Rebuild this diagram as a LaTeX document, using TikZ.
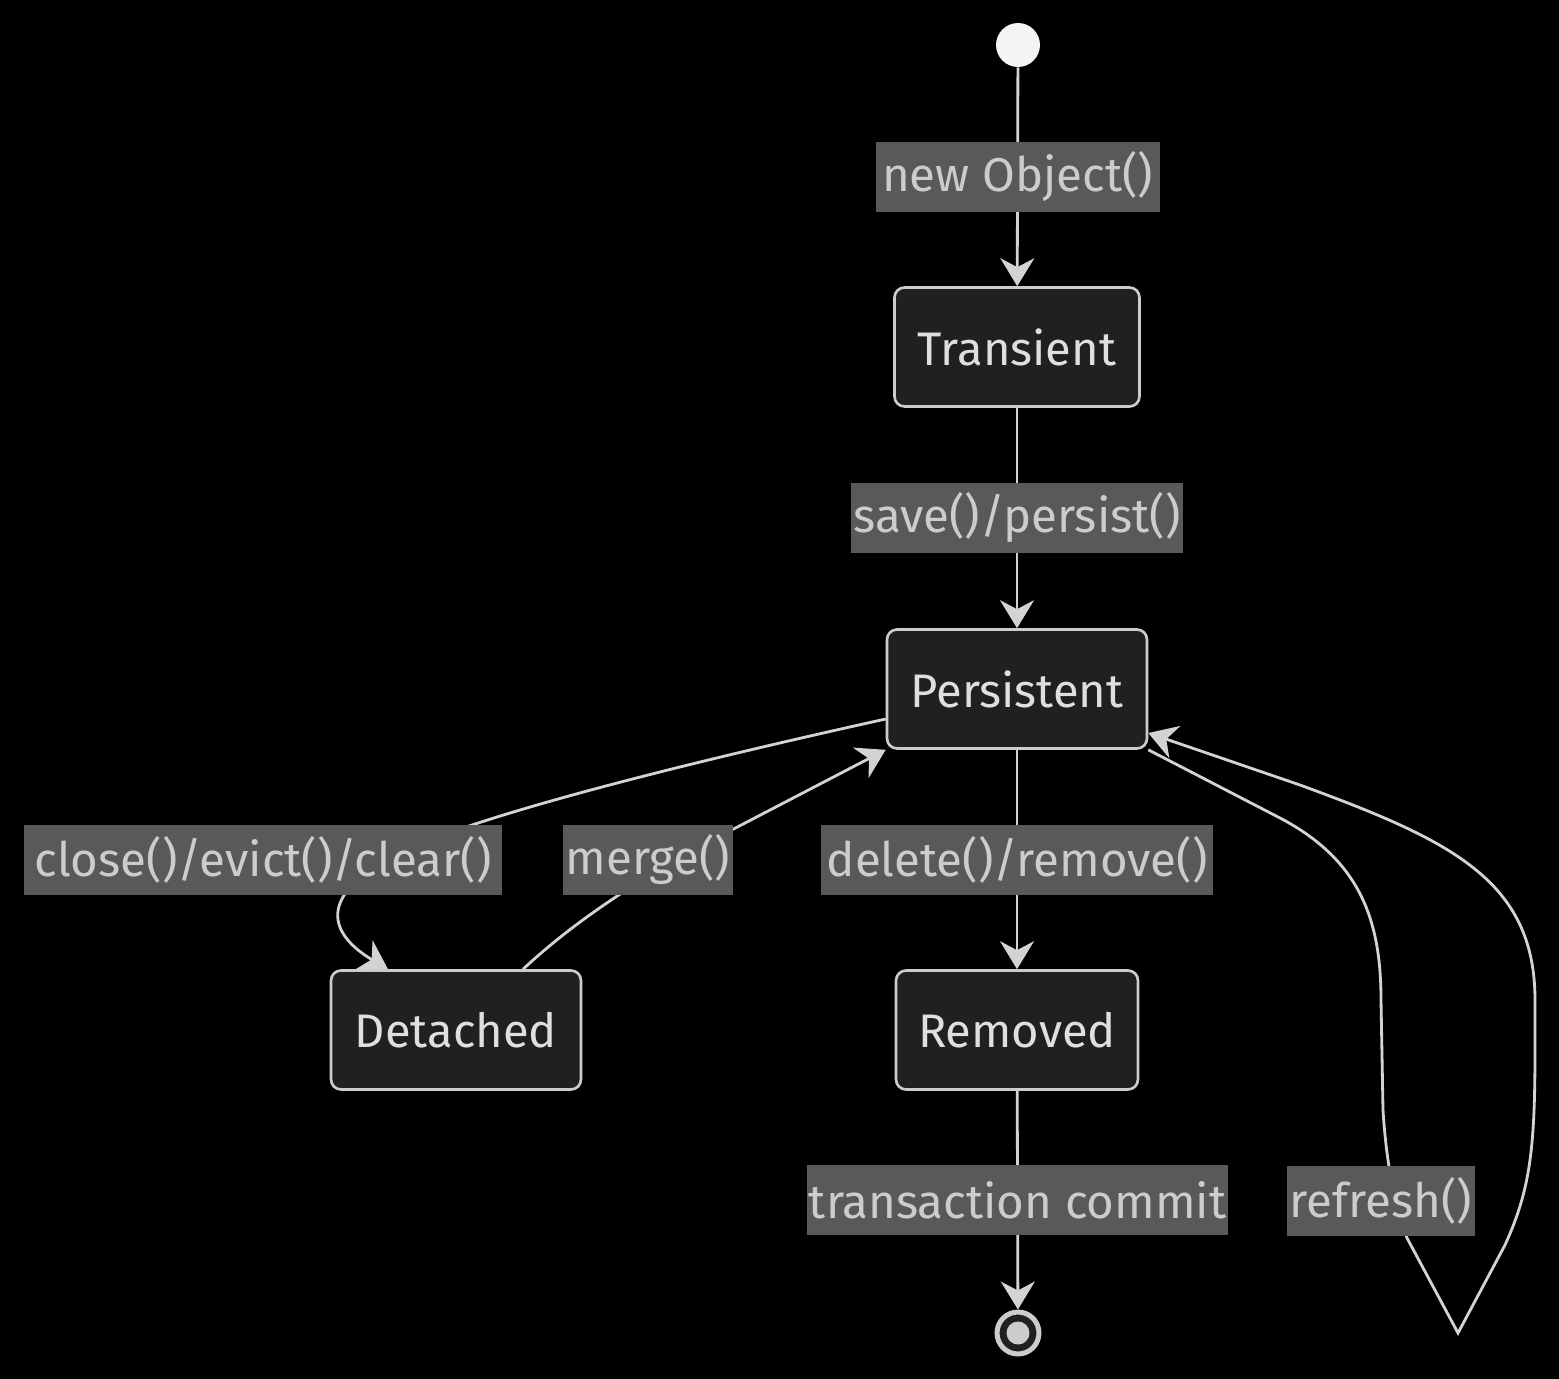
\documentclass[tikz,border=0pt]{standalone}
\usepackage{fontspec}
\setmainfont{Fira Sans}
\usetikzlibrary{arrows.meta,calc,positioning}

\definecolor{boxfill}{HTML}{1F2020}
\definecolor{boxline}{HTML}{CCCCCC}
\definecolor{lblfill}{HTML}{595959}
\definecolor{lbltext}{HTML}{CCCCCC}
\definecolor{linecol}{HTML}{D3D3D3}
\definecolor{txtcol}{HTML}{E0DFDF}
\definecolor{dotcol}{HTML}{F4F4F4}

\tikzset{
  stbox/.style={draw=boxline, fill=boxfill, line width=1.5pt, rounded corners=0.2cm,
    minimum height=2.38cm, inner sep=0pt, text=txtcol, font=\fontsize{26.8}{31}\selectfont},
  lbl/.style={fill=lblfill, text=lbltext, minimum height=1.4cm, inner xsep=1pt,
    inner ysep=0pt, font=\fontsize{27}{31}\selectfont},
  arr/.style={draw=linecol, line width=1.6pt,
    -{Stealth[length=0.56cm, width=0.68cm, inset=0.18cm]}},
  startdot/.style={circle, fill=dotcol, minimum size=0.88cm, inner sep=0pt},
  endring/.style={circle, draw=boxline, line width=0.1cm, fill=boxfill, minimum size=0.84cm, inner sep=0pt},
  enddot/.style={circle, fill=boxline, minimum size=0.46cm, inner sep=0pt},
}

\begin{document}
\begin{tikzpicture}[x=0.02cm, y=-0.02cm]
  \fill[black] (0,0) rectangle (1559,1379);
  \useasboundingbox (0,0) rectangle (1559,1379);

  % states
  \node[startdot] (init) at (1018,45) {};
  \node[stbox, minimum width=4.9cm] (transient) at (1017,347) {Transient};
  \node[stbox, minimum width=5.2cm] (persistent) at (1017,689) {Persistent};
  \node[stbox, minimum width=5.0cm] (detached) at (456,1030) {Detached};
  \node[stbox, minimum width=4.84cm] (removed) at (1017,1030) {Removed};
  \node[endring] (final) at (1018,1333) {};
  \node[enddot] (finalcore) at (final) {};

  % straight transitions
  \draw[arr] (init) -- node[lbl, minimum width=5.68cm] (lnew) {new Object()} (transient);
  \draw[arr] (transient) -- node[lbl, minimum width=6.64cm] (lsave) {save()/persist()} (persistent);
  \draw[arr] (persistent) -- node[lbl, minimum width=7.84cm] (ldel) {delete()/remove()} (removed);
  \draw[arr] (removed) -- node[lbl, minimum width=8.36cm] (lcommit) {transaction commit} (final);

  % curved transitions
  \draw[arr] ($(persistent.west)+(0,30)$) .. controls (700,760) and (520,805) .. (430,840)
    .. controls (315,885) and (322,930) .. ($(detached.north)+(-68,0)$);
  \draw[arr] ($(detached.north)+(67,0)$) .. controls (560,935) and (600,905) .. (674,860)
    -- (persistent.south west);
  \draw[arr] (persistent.south east) -- (1280,818) .. controls (1360,860) and (1381,920) .. (1381,1000)
    -- (1383,1110) .. controls (1386,1160) and (1395,1210) .. (1407,1238) -- (1458,1333)
    -- (1505,1245) .. controls (1530,1190) and (1535,1150) .. (1535,1050) -- (1535,1000)
    .. controls (1535,880) and (1450,840) .. (1300,785) -- ($(persistent.east)+(0,44)$);

  \node[lbl, minimum width=9.58cm] (lclose) at (263,860) {close()/evict()/clear()};
  \node[lbl, minimum width=3.4cm] (lmerge) at (648,860) {merge()};
  \node[lbl, minimum width=3.76cm] (lrefresh) at (1381,1201) {refresh()};
\end{tikzpicture}
\end{document}
